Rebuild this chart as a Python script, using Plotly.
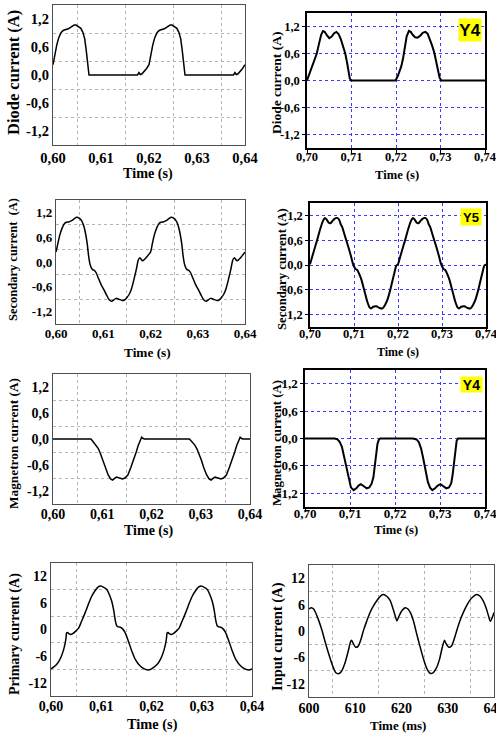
import plotly.graph_objects as go

W, H = 496, 735
FONT = "Liberation Serif, Times New Roman, serif"

# ---------------- tick labels ----------------
x_ticks_a = [0.60, 0.61, 0.62, 0.63, 0.64]
x_labels_a = ["0,60", "0,61", "0,62", "0,63", "0,64"]
x_ticks_b = [0.70, 0.71, 0.72, 0.73, 0.74]
x_labels_b = ["0,70", "0,71", "0,72", "0,73", "0,74"]
x_ticks_ms = [600, 610, 620, 630, 640]
x_labels_ms = ["600", "610", "620", "630", "640"]
y_ticks_small = [-1.2, -0.6, 0.0, 0.6, 1.2]
y_labels_small = ["-1,2", "-0,6", "0,0", "0,6", "1,2"]
y_ticks_big = [-12, -6, 0, 6, 12]
y_labels_big = ["-12", "-6", "0", "6", "12"]

# ---------------- series ----------------
# 1. Diode current, 0.60-0.64 s
t_diode_a = [0.6000, 0.6004, 0.6008, 0.6012, 0.6017, 0.6022, 0.6027, 0.6032, 0.6038, 0.6044, 0.6048, 0.6053,
             0.6058, 0.6062, 0.6066, 0.6069, 0.6072, 0.6075,
             0.6120, 0.6176, 0.6179, 0.6182, 0.6185, 0.6190, 0.6195,
             0.6200, 0.6204, 0.6208, 0.6212, 0.6217, 0.6222, 0.6227, 0.6232, 0.6238, 0.6244, 0.6248, 0.6253,
             0.6258, 0.6262, 0.6266, 0.6269, 0.6272, 0.6275,
             0.6320, 0.6376, 0.6379, 0.6382, 0.6385, 0.6390, 0.6395, 0.6400]
i_diode_a = [0.22, 0.45, 0.65, 0.80, 0.91, 0.96, 0.97, 0.99, 1.03, 1.07, 1.07, 1.04,
             1.00, 0.92, 0.78, 0.55, 0.30, 0.00,
             0.00, 0.00, 0.05, 0.01, 0.02, 0.07, 0.14,
             0.22, 0.45, 0.65, 0.80, 0.91, 0.96, 0.97, 0.99, 1.03, 1.07, 1.07, 1.04,
             1.00, 0.92, 0.78, 0.55, 0.30, 0.00,
             0.00, 0.00, 0.05, 0.01, 0.02, 0.07, 0.14, 0.22]

# 2. Diode current, 0.70-0.74 s (Y4)
t_diode_b = [0.7000, 0.7005, 0.7010, 0.7014, 0.7018, 0.7022, 0.7027, 0.7032, 0.7036, 0.7040, 0.7045, 0.7050,
             0.7055, 0.7061, 0.7066, 0.7071, 0.7076, 0.7081, 0.7086, 0.7090, 0.7093, 0.7096, 0.7099,
             0.7150, 0.7199, 0.7204, 0.7208, 0.7212, 0.7216, 0.7220, 0.7224, 0.7229, 0.7233, 0.7238, 0.7243,
             0.7248, 0.7254, 0.7260, 0.7266, 0.7271, 0.7276, 0.7281, 0.7286, 0.7290, 0.7294, 0.7298, 0.7302,
             0.7350, 0.7400]
i_diode_b = [0.00, 0.13, 0.28, 0.37, 0.48, 0.60, 0.82, 1.02, 1.10, 1.08, 1.00, 0.94,
             0.97, 1.05, 1.08, 1.03, 0.92, 0.75, 0.60, 0.40, 0.20, 0.05, 0.00,
             0.00, 0.00, 0.10, 0.22, 0.32, 0.50, 0.75, 0.98, 1.10, 1.08, 1.01, 0.96,
             0.95, 0.99, 1.06, 1.08, 1.04, 0.92, 0.78, 0.62, 0.45, 0.25, 0.06, 0.00,
             0.00, 0.00]

# 3. Secondary current, 0.60-0.64 s
t_sec_a = [0.6000, 0.6004, 0.6008, 0.6013, 0.6018, 0.6022, 0.6027, 0.6033, 0.6039, 0.6044, 0.6049, 0.6054,
           0.6058, 0.6062, 0.6066, 0.6069, 0.6072, 0.6075, 0.6078, 0.6081, 0.6085, 0.6090, 0.6096, 0.6101,
           0.6107, 0.6113, 0.6118, 0.6122, 0.6127, 0.6133, 0.6140, 0.6145, 0.6150, 0.6155, 0.6160, 0.6165,
           0.6170, 0.6174, 0.6177, 0.6180, 0.6183, 0.6187, 0.6192, 0.6196,
           0.6200, 0.6204, 0.6208, 0.6213, 0.6218, 0.6222, 0.6227, 0.6233, 0.6239, 0.6244, 0.6249, 0.6254,
           0.6258, 0.6262, 0.6266, 0.6269, 0.6272, 0.6275, 0.6278, 0.6281, 0.6285, 0.6290, 0.6296, 0.6301,
           0.6307, 0.6313, 0.6318, 0.6322, 0.6327, 0.6333, 0.6340, 0.6345, 0.6350, 0.6355, 0.6360, 0.6365,
           0.6370, 0.6374, 0.6377, 0.6380, 0.6383, 0.6387, 0.6392, 0.6396, 0.6400]
i_sec_a = [0.24, 0.45, 0.65, 0.82, 0.93, 0.96, 0.97, 1.00, 1.05, 1.08, 1.06, 1.00,
           0.90, 0.72, 0.45, 0.15, -0.05, -0.15, -0.19, -0.20, -0.26, -0.40, -0.56, -0.66,
           -0.80, -0.92, -0.95, -0.92, -0.88, -0.90, -0.93, -0.92, -0.86, -0.78, -0.64, -0.42,
           -0.18, 0.04, 0.10, 0.07, 0.03, 0.06, 0.12, 0.18,
           0.24, 0.45, 0.65, 0.82, 0.93, 0.96, 0.97, 1.00, 1.05, 1.08, 1.06, 1.00,
           0.90, 0.72, 0.45, 0.15, -0.05, -0.15, -0.19, -0.20, -0.26, -0.40, -0.56, -0.66,
           -0.80, -0.92, -0.95, -0.92, -0.88, -0.90, -0.93, -0.92, -0.86, -0.78, -0.64, -0.42,
           -0.18, 0.04, 0.10, 0.07, 0.03, 0.06, 0.12, 0.18, 0.24]

# 4. Secondary current, 0.70-0.74 s (Y5)
t_sec_b = [0.7000, 0.7005, 0.7010, 0.7015, 0.7020, 0.7025, 0.7030, 0.7034, 0.7038, 0.7042, 0.7046, 0.7050,
           0.7055, 0.7061, 0.7066, 0.7070, 0.7073, 0.7080, 0.7087, 0.7093, 0.7097, 0.7100, 0.7104, 0.7108,
           0.7112, 0.7117, 0.7121, 0.7125, 0.7130, 0.7135, 0.7139, 0.7144, 0.7151, 0.7158, 0.7165, 0.7170,
           0.7176, 0.7182, 0.7187, 0.7192, 0.7196,
           0.7200, 0.7205, 0.7210, 0.7215, 0.7220, 0.7225, 0.7230, 0.7234, 0.7238, 0.7242, 0.7246, 0.7250,
           0.7255, 0.7261, 0.7266, 0.7270, 0.7273, 0.7280, 0.7287, 0.7293, 0.7297, 0.7300, 0.7304, 0.7308,
           0.7312, 0.7317, 0.7321, 0.7325, 0.7330, 0.7335, 0.7339, 0.7344, 0.7351, 0.7358, 0.7365, 0.7370,
           0.7376, 0.7382, 0.7387, 0.7392, 0.7396, 0.7400]
i_sec_b = [0.02, 0.20, 0.38, 0.56, 0.75, 0.93, 1.08, 1.14, 1.10, 1.03, 1.01, 1.05,
           1.11, 1.14, 1.10, 0.98, 0.92, 0.68, 0.44, 0.22, 0.05, -0.03, -0.10, -0.13,
           -0.22, -0.36, -0.52, -0.68, -0.88, -1.02, -1.05, -1.01, -1.00, -1.04, -1.05, -0.98,
           -0.84, -0.62, -0.40, -0.18, -0.02,
           0.02, 0.20, 0.38, 0.56, 0.75, 0.93, 1.08, 1.14, 1.10, 1.03, 1.01, 1.05,
           1.11, 1.14, 1.10, 0.98, 0.92, 0.68, 0.44, 0.22, 0.05, -0.03, -0.10, -0.13,
           -0.22, -0.36, -0.52, -0.68, -0.88, -1.02, -1.05, -1.01, -1.00, -1.04, -1.05, -0.98,
           -0.84, -0.62, -0.40, -0.18, -0.02, 0.02]

# 5. Magnetron current, 0.60-0.64 s
t_mag_a = [0.6000, 0.6077, 0.6080, 0.6084, 0.6088, 0.6092, 0.6096, 0.6101, 0.6106, 0.6112, 0.6117, 0.6121,
           0.6125, 0.6129, 0.6135, 0.6141, 0.6146, 0.6152, 0.6158, 0.6164, 0.6169, 0.6173, 0.6177, 0.6180,
           0.6183, 0.6186,
           0.6277, 0.6280, 0.6284, 0.6288, 0.6292, 0.6296, 0.6301, 0.6306, 0.6312, 0.6317, 0.6321,
           0.6325, 0.6329, 0.6335, 0.6341, 0.6346, 0.6352, 0.6358, 0.6364, 0.6369, 0.6373, 0.6377, 0.6380,
           0.6383, 0.6386, 0.6400]
i_mag_a = [0.00, 0.00, -0.04, -0.10, -0.14, -0.22, -0.33, -0.48, -0.66, -0.83, -0.92, -0.95,
           -0.91, -0.88, -0.90, -0.92, -0.90, -0.83, -0.66, -0.48, -0.30, -0.15, -0.02, 0.04,
           0.01, 0.00,
           0.00, -0.04, -0.10, -0.14, -0.22, -0.33, -0.48, -0.66, -0.83, -0.92, -0.95,
           -0.91, -0.88, -0.90, -0.92, -0.90, -0.83, -0.66, -0.48, -0.30, -0.15, -0.02, 0.04,
           0.01, 0.00, 0.00]

# 6. Magnetron current, 0.70-0.74 s (Y4)
t_mag_b = [0.7000, 0.7066, 0.7072, 0.7077, 0.7082, 0.7087, 0.7092, 0.7097, 0.7102, 0.7108, 0.7114, 0.7119,
           0.7124, 0.7130, 0.7137, 0.7143, 0.7148, 0.7152, 0.7155, 0.7158, 0.7161, 0.7164, 0.7167,
           0.7240, 0.7248, 0.7253, 0.7258, 0.7263, 0.7268, 0.7273, 0.7278, 0.7283, 0.7289, 0.7295, 0.7301,
           0.7307, 0.7314, 0.7320, 0.7325, 0.7328, 0.7331, 0.7334, 0.7337, 0.7340, 0.7400]
i_mag_b = [0.00, 0.00, -0.02, -0.07, -0.18, -0.40, -0.65, -0.90, -1.07, -1.13, -1.09, -1.03,
           -1.00, -1.04, -1.09, -1.07, -0.99, -0.85, -0.60, -0.32, -0.12, -0.03, 0.00,
           0.00, -0.02, -0.08, -0.22, -0.45, -0.72, -0.95, -1.08, -1.13, -1.09, -1.03, -1.00,
           -1.04, -1.09, -1.07, -0.98, -0.80, -0.50, -0.20, -0.05, 0.00, 0.00]

# 7. Primary current, 0.60-0.64 s
t_prim = [0.6000, 0.6005, 0.6010, 0.6015, 0.6020, 0.6025, 0.6028, 0.6030, 0.6031, 0.6033, 0.6036, 0.6040,
          0.6044, 0.6049, 0.6055, 0.6061, 0.6068, 0.6074, 0.6081, 0.6088, 0.6094, 0.6099, 0.6105, 0.6111,
          0.6116, 0.6121, 0.6125, 0.6128, 0.6131, 0.6134, 0.6138, 0.6142, 0.6147, 0.6153, 0.6160, 0.6168,
          0.6178, 0.6188, 0.6196,
          0.6200, 0.6205, 0.6210, 0.6215, 0.6220, 0.6225, 0.6228, 0.6230, 0.6231, 0.6233, 0.6236, 0.6240,
          0.6244, 0.6249, 0.6255, 0.6261, 0.6268, 0.6274, 0.6281, 0.6288, 0.6294, 0.6299, 0.6305, 0.6311,
          0.6316, 0.6321, 0.6325, 0.6328, 0.6331, 0.6334, 0.6338, 0.6342, 0.6347, 0.6353, 0.6360, 0.6368,
          0.6378, 0.6388, 0.6396, 0.6400]
i_prim = [-8.9, -8.5, -8.0, -7.3, -6.2, -4.6, -3.2, -1.8, -0.8, -0.7, -1.0, -1.1,
          -0.9, -0.4, 0.3, 1.9, 3.8, 5.6, 7.5, 8.8, 9.6, 9.8, 9.5, 9.0,
          7.9, 6.3, 4.2, 2.0, 0.8, 0.6, 0.5, 0.2, -0.6, -2.3, -4.6, -6.8,
          -8.3, -9.0, -9.1,
          -8.9, -8.5, -8.0, -7.3, -6.2, -4.6, -3.2, -1.8, -0.8, -0.7, -1.0, -1.1,
          -0.9, -0.4, 0.3, 1.9, 3.8, 5.6, 7.5, 8.8, 9.6, 9.8, 9.5, 9.0,
          7.9, 6.3, 4.2, 2.0, 0.8, 0.6, 0.5, 0.2, -0.6, -2.3, -4.6, -6.8,
          -8.3, -9.0, -9.1, -8.9]

# 8. Input current, 600-640 ms
t_input = [600.0, 600.5, 601.0, 601.7, 602.7, 603.5, 604.2, 605.0, 605.8, 606.4, 607.0, 607.8,
           608.5, 609.0, 609.2, 609.5, 610.1, 610.6, 611.2, 611.8, 612.5, 613.2, 614.0, 614.8,
           615.5, 616.1, 616.8, 617.5, 618.1, 618.6, 619.0, 619.4, 620.0, 620.8, 621.4, 622.0,
           622.6, 623.2, 624.0, 624.8, 625.5, 626.2, 626.8, 627.5, 628.2, 628.8, 629.3, 629.6,
           630.2, 630.8, 631.4, 632.0, 632.7, 633.4, 634.2, 635.0, 635.7, 636.3, 637.0, 637.7,
           638.3, 638.8, 639.2, 639.6, 640.0]
i_input = [5.0, 5.3, 5.0, 3.5, 0.5, -2.5, -5.0, -7.6, -9.5, -9.7, -9.2, -7.2,
           -4.5, -2.4, -2.1, -2.7, -3.7, -3.5, -2.0, 0.2, 2.3, 4.2, 5.8, 7.1,
           8.0, 8.3, 7.9, 7.0, 5.3, 3.6, 2.3, 3.2, 4.5, 5.3, 5.0, 4.0,
           2.2, -0.3, -3.5, -6.5, -8.6, -9.6, -9.5, -8.5, -6.5, -3.8, -2.1, -2.8,
           -3.7, -3.4, -1.8, 0.3, 2.5, 4.3, 6.0, 7.3, 8.0, 8.3, 7.9, 6.8,
           5.2, 3.5, 2.2, 3.0, 4.2]

# ---------------- figure ----------------
panels = [
    dict(x=t_diode_a, y=i_diode_a, box=(53, 245, 5, 145), style="a", xr=[0.60, 0.64], xt=x_ticks_a, xl=x_labels_a,
         yr=[-1.5, 1.5], yt=y_ticks_small, yl=y_labels_small, fs=14.5, so=-1, shape="linear",
         mx=[0.605, 0.615, 0.625, 0.635], my=[-0.9, -0.3, 0.3, 0.9]),
    dict(x=t_diode_b, y=i_diode_b, box=(307, 485, 13, 148), style="b", xr=[0.70, 0.74], xt=x_ticks_b, xl=x_labels_b,
         yr=[-1.5, 1.5], yt=y_ticks_small, yl=y_labels_small, fs=12.5, so=-7, shape="linear"),
    dict(x=t_sec_a, y=i_sec_a, box=(56, 245, 200, 324), style="a", xr=[0.60, 0.64], xt=x_ticks_a, xl=x_labels_a,
         yr=[-1.5, 1.5], yt=y_ticks_small, yl=y_labels_small, fs=13, so=-3, shape="spline",
         mx=[0.605, 0.615, 0.625, 0.635], my=[-0.9, -0.3, 0.3, 0.9]),
    dict(x=t_sec_b, y=i_sec_b, box=(310, 486, 203, 327), style="b", xr=[0.70, 0.74], xt=x_ticks_b, xl=x_labels_b,
         yr=[-1.5, 1.5], yt=y_ticks_small, yl=y_labels_small, fs=12.5, so=-9, shape="spline"),
    dict(x=t_mag_a, y=i_mag_a, box=(53, 250, 374, 504), style="a", xr=[0.60, 0.64], xt=x_ticks_a, xl=x_labels_a,
         yr=[-1.5, 1.5], yt=y_ticks_small, yl=y_labels_small, fs=14, so=-3, shape="linear",
         mx=[0.605, 0.615, 0.625, 0.635], my=[-0.9, -0.3, 0.3, 0.9]),
    dict(x=t_mag_b, y=i_mag_b, box=(305, 485, 370, 507), style="b", xr=[0.70, 0.74], xt=x_ticks_b, xl=x_labels_b,
         yr=[-1.5, 1.5], yt=y_ticks_small, yl=y_labels_small, fs=13, so=-9, shape="linear"),
    dict(x=t_prim, y=i_prim, box=(51, 252, 563, 696), style="a", xr=[0.60, 0.64], xt=x_ticks_a, xl=x_labels_a,
         yr=[-15, 15], yt=y_ticks_big, yl=y_labels_big, fs=14, so=-3, shape="spline",
         mx=[0.605, 0.615, 0.625, 0.635], my=[-9, -3, 3, 9]),
    dict(x=t_input, y=i_input, box=(309, 494, 565, 697), style="a", xr=[600, 640], xt=x_ticks_ms, xl=x_labels_ms,
         yr=[-15, 15], yt=y_ticks_big, yl=y_labels_big, fs=14, so=-2, shape="spline",
         mx=[605, 615, 625, 635], my=[-9, -3, 3, 9]),
]

fig = go.Figure()
layout = dict(width=W, height=H, margin=dict(l=0, r=0, t=0, b=0),
              paper_bgcolor="white", plot_bgcolor="white", showlegend=False)

for k, p in enumerate(panels, start=1):
    left, right, top, bottom = p["box"]
    xa = "x" if k == 1 else f"x{k}"
    ya = "y" if k == 1 else f"y{k}"
    is_b = p["style"] == "b"
    line = dict(color="black", width=2.0 if is_b else 1.5, shape=p["shape"])
    if p["shape"] == "spline":
        line["smoothing"] = 0.7
    fig.add_trace(go.Scatter(x=p["x"], y=p["y"], mode="lines", xaxis=xa, yaxis=ya,
                             line=line, hoverinfo="skip"))
    tickfont = dict(family=FONT, size=p["fs"], color="black", weight="bold")
    common = dict(showline=True, mirror=True, linewidth=1.5 if is_b else 1.3,
                  linecolor="black" if is_b else "#505050", zeroline=False, tickmode="array",
                  tickfont=tickfont, automargin=False, fixedrange=True, ticklabeloverflow="allow")
    if is_b:
        grid = dict(showgrid=True, gridcolor="#3a3aff", griddash="dot", gridwidth=1,
                    ticks="outside", ticklen=3, tickcolor="black", tickwidth=1)
        gx = dict(grid)
        gy = dict(grid)
    else:
        gx = dict(showgrid=False, ticks="",
                  minor=dict(tickmode="array", tickvals=p["mx"], showgrid=True, gridcolor="#b4b4b4",
                             griddash="dot", gridwidth=1, ticks=""))
        gy = dict(showgrid=False, ticks="",
                  minor=dict(tickmode="array", tickvals=p["my"], showgrid=True, gridcolor="#b4b4b4",
                             griddash="dot", gridwidth=1, ticks=""))
    layout["xaxis" if k == 1 else f"xaxis{k}"] = dict(
        domain=[left / W, right / W], anchor=ya, range=p["xr"], tickvals=p["xt"], ticktext=p["xl"],
        ticklabelstandoff=p["so"], **common, **gx)
    layout["yaxis" if k == 1 else f"yaxis{k}"] = dict(
        domain=[1 - bottom / H, 1 - top / H], anchor=xa, range=p["yr"], tickvals=p["yt"], ticktext=p["yl"],
        **common, **gy)

# axis titles (px positions) and labels
y_titles = [
    ("Diode current (A)", 13, 73, 16.5),
    ("Diode current (A)", 277, 83, 13.5),
    ("Secondary current  (A)", 13, 260, 12.5),
    ("Secondary current (A)", 282, 269, 12.7),
    ("Magnetron current (A)", 13, 444, 13.3),
    ("Magnetron current (A)", 277, 443, 12.8),
    ("Primary current (A)", 15, 634, 14),
    ("Input current (A)", 277, 637, 14.5),
]
x_titles = [
    ("Time (s)", 148, 174, 14.2),
    ("Time (s)", 397, 175, 12.6),
    ("Time (s)", 147, 352, 13.3),
    ("Time (s)", 398, 352, 12),
    ("Time (s)", 148, 531, 14),
    ("Time (s)", 396, 530, 12.6),
    ("Time (s)", 152, 724, 14.4),
    ("Time (ms)", 398, 725, 13),
]
ann = []
for txt, px, py, fs in y_titles:
    ann.append(dict(text=f"<b>{txt}</b>", x=px / W, y=1 - py / H, xref="paper", yref="paper",
                    xanchor="center", yanchor="middle", textangle=-90, showarrow=False,
                    font=dict(family=FONT, size=fs, color="black")))
for txt, px, py, fs in x_titles:
    ann.append(dict(text=f"<b>{txt}</b>", x=px / W, y=1 - py / H, xref="paper", yref="paper",
                    xanchor="center", yanchor="middle", showarrow=False,
                    font=dict(family=FONT, size=fs, color="black")))
tags = [("Y4", 470, 30, 22, 22, 17), ("Y5", 471, 217, 20, 16, 13), ("Y4", 471.5, 384.5, 21, 15, 14)]
for txt, px, py, w, h, fs in tags:
    ann.append(dict(text=f"<b>{txt}</b>", x=px / W, y=1 - py / H, xref="paper", yref="paper",
                    xanchor="center", yanchor="middle", showarrow=False, width=w, height=h,
                    bgcolor="#ffff00", borderpad=0,
                    font=dict(family="Liberation Sans, Arial, sans-serif", size=fs, color="black")))
layout["annotations"] = ann

fig.update_layout(**layout)
fig.write_html("out.html", config={"displayModeBar": False},
               post_script="document.body.style.margin='0px';document.body.style.overflow='hidden';")
